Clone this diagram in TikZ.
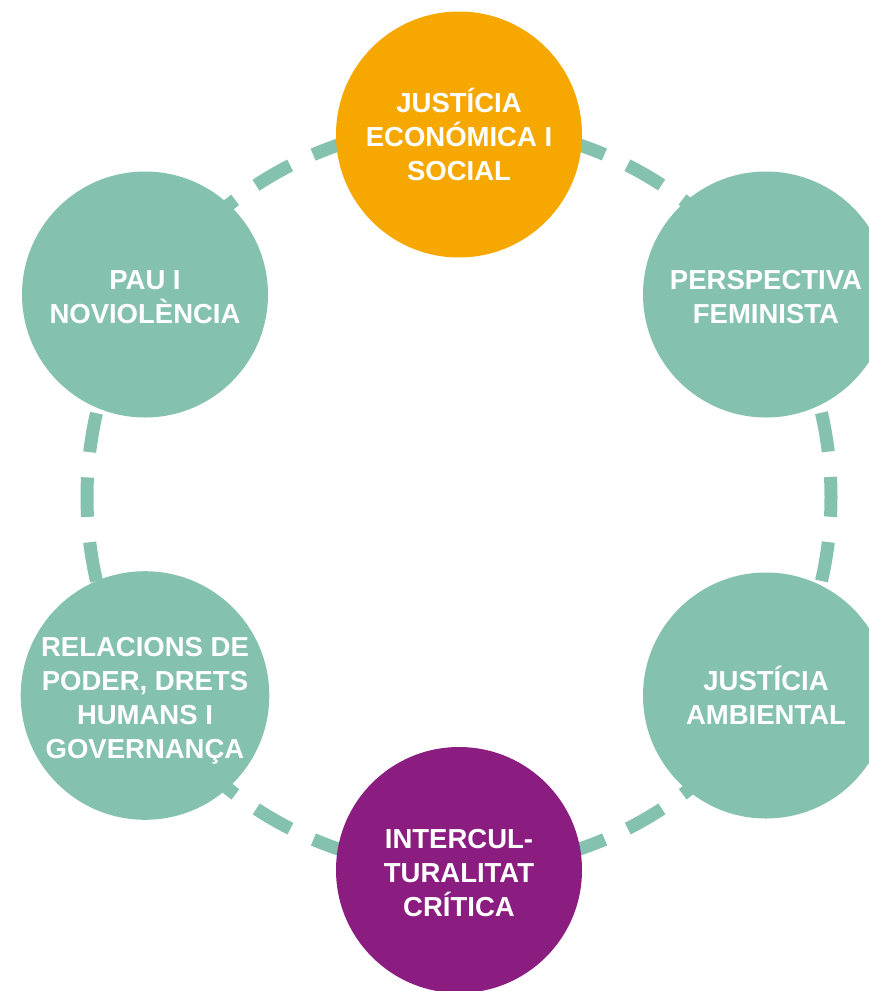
\documentclass[tikz,border=0pt]{standalone}
\usepackage{fontspec}
\setmainfont{Liberation Sans}
\definecolor{teal1}{HTML}{85C1AF}
\definecolor{orange1}{HTML}{F6A800}
\definecolor{purple1}{HTML}{8C1D80}
\newcommand\tstrut{\rule[-4.6pt]{0pt}{34pt}}
\tikzset{
  topic/.style={circle, minimum size=246pt, inner sep=0pt, fill=teal1,
    text=white, align=center, font=\fontsize{27.5}{34}\selectfont\bfseries},
  ring/.style={draw=teal1, line width=13pt,
    dash pattern=on 39.5pt off 25.426pt, dash phase=19.75pt}
}
\begin{document}
\begin{tikzpicture}[x=1pt,y=-1pt]
\useasboundingbox (0,0) rectangle (869,991);
\clip (0,0) rectangle (869,991);
\coordinate (ctr) at (459,497);
\draw[ring] (ctr) circle[radius=372];
\node[topic, fill=orange1] (econ) at (459,134.5) {\tstrut JUSTÍCIA\\\tstrut ECONÓMICA I\\\tstrut SOCIAL};
\node[topic] (pau) at (145,294.5) {\tstrut PAU I\\\tstrut NOVIOLÈNCIA};
\node[topic] (fem) at (766,294.5) {\tstrut PERSPECTIVA\\\tstrut FEMINISTA};
\node[topic] (pod) at (145,695.5) {\tstrut RELACIONS DE\\\tstrut PODER, DRETS\\\tstrut HUMANS I\\\tstrut GOVERNANÇA};
\node[topic] (amb) at (766,695.5) {\tstrut JUSTÍCIA\\\tstrut AMBIENTAL};
\node[topic, fill=purple1] (inter) at (459,870) {\tstrut INTERCUL-\\\tstrut TURALITAT\\\tstrut CRÍTICA};
\end{tikzpicture}
\end{document}
